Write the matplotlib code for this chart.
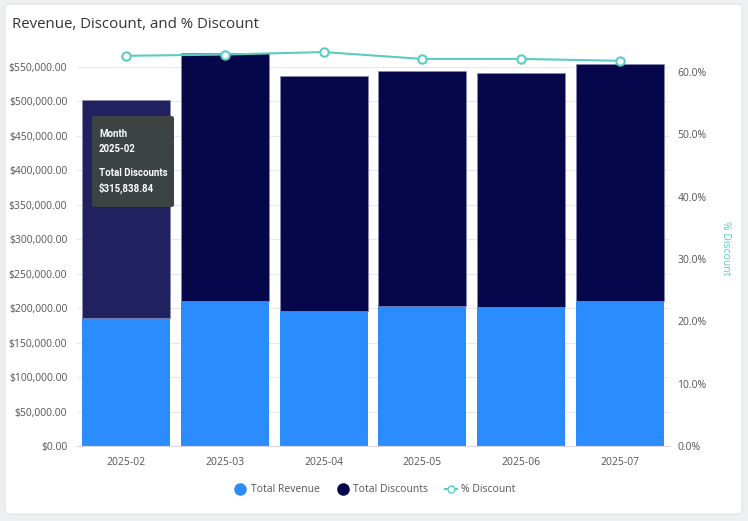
import matplotlib.pyplot as plt
from matplotlib.patches import FancyBboxPatch
from matplotlib.lines import Line2D
from matplotlib.ticker import FuncFormatter, MultipleLocator

months = ["2025-02", "2025-03", "2025-04", "2025-05", "2025-06", "2025-07"]
revenue = [185500, 210000, 195600, 203000, 201400, 210000]
discounts = [315838.84, 359500, 340600, 340500, 339200, 343600]
pct_discount = [0.626, 0.628, 0.632, 0.621, 0.621, 0.618]

rev_color = "#2a8cff"
disc_color = "#06064a"
hover_color = "#21215f"
line_color = "#5ccbc4"
text_color = "#555555"

plt.rcParams['font.family'] = ['Open Sans', 'DejaVu Sans']

fig = plt.figure(figsize=(7.48, 5.21), dpi=100)
fig.patch.set_facecolor("#eeeff1")

# white card
card = FancyBboxPatch((5 / 748, 7 / 521), 737 / 748, 510 / 521,
                      boxstyle="round,pad=0,rounding_size=0.008",
                      transform=fig.transFigure, facecolor="white",
                      edgecolor="#e2e3e6", linewidth=0.8, zorder=-5)
fig.patches.append(card)

ax = fig.add_axes([77 / 748, 75 / 521, 592 / 748, 396 / 521])
ax.set_facecolor("none")
x = range(len(months))
disc_colors = [hover_color] + [disc_color] * (len(months) - 1)
ax.bar(x, revenue, width=0.89, color=rev_color, zorder=2)
ax.bar(x, discounts, width=0.89, bottom=revenue, color=disc_colors,
       edgecolor="#8a8ab0", linewidth=0.5, zorder=2)

ax.set_xlim(-0.5, 5.5)
ax.set_ylim(0, 574000)
ax.yaxis.set_major_locator(MultipleLocator(50000))
ax.yaxis.set_major_formatter(FuncFormatter(lambda v, p: "${:,.2f}".format(v)))
ax.set_xticks(list(x))
ax.set_xticklabels(months)
ax.grid(axis="y", color="#e8e8e8", linewidth=0.8, zorder=0)
ax.set_axisbelow(True)
ax.tick_params(axis="y", length=0, labelsize=7.5, labelcolor=text_color, pad=7)
ax.tick_params(axis="x", length=0, labelsize=7.5, labelcolor=text_color, pad=8)
for s in ["top", "right", "left"]:
    ax.spines[s].set_visible(False)
ax.spines["bottom"].set_color("#d8d8e6")

ax2 = ax.twinx()
ax2.plot(x, pct_discount, color=line_color, linewidth=1.5, marker="o",
         markersize=6, markerfacecolor="white", markeredgecolor=line_color,
         markeredgewidth=1.5, zorder=5, clip_on=False)
ax2.set_ylim(0, 0.6353)
ax2.yaxis.set_major_locator(MultipleLocator(0.1))
ax2.yaxis.set_major_formatter(FuncFormatter(lambda v, p: "{:.1f}%".format(v * 100)))
ax2.tick_params(axis="y", length=0, labelsize=7.5, labelcolor=text_color, pad=6)
for s in ["top", "right", "left", "bottom"]:
    ax2.spines[s].set_visible(False)
ax2.set_ylabel("% Discount", color=line_color, fontsize=7.5, rotation=-90,
               labelpad=18)

fig.text(12 / 748, 1 - 25 / 521, "Revenue, Discount, and % Discount",
         fontsize=10.8, color="#333333", va="center", ha="left")

# tooltip for hovered bar
tip = FancyBboxPatch((92 / 748, 1 - 207 / 521), 82 / 748, 91 / 521,
                     boxstyle="round,pad=0,rounding_size=0.004",
                     transform=fig.transFigure, facecolor="#3d4242",
                     edgecolor="none", zorder=10)
fig.patches.append(tip)
tip_lines = [("Month", 134), (months[0], 149), ("Total Discounts", 173),
             ("${:,.2f}".format(discounts[0]), 188)]
for txt, yy in tip_lines:
    fig.text(99 / 748, 1 - yy / 521, txt, fontsize=6.9, color="white",
             fontweight="bold", va="center", ha="left", family=["Roboto", "DejaVu Sans"],
             zorder=11)

handles = [
    Line2D([], [], linestyle="none", marker="o", markersize=8,
           markerfacecolor=rev_color, markeredgecolor=rev_color),
    Line2D([], [], linestyle="none", marker="o", markersize=8,
           markerfacecolor=disc_color, markeredgecolor=disc_color),
    Line2D([], [], color=line_color, linewidth=1.5, marker="o", markersize=5,
           markerfacecolor="white", markeredgecolor=line_color),
]
fig.legend(handles, ["Total Revenue", "Total Discounts", "% Discount"],
           loc="center", bbox_to_anchor=(375 / 748, 1 - 490 / 521), ncol=3,
           frameon=False, fontsize=7.5, labelcolor=text_color,
           handlelength=1.2, handletextpad=0.4, columnspacing=1.6)

fig.savefig("out.png", dpi=100, facecolor=fig.get_facecolor())
